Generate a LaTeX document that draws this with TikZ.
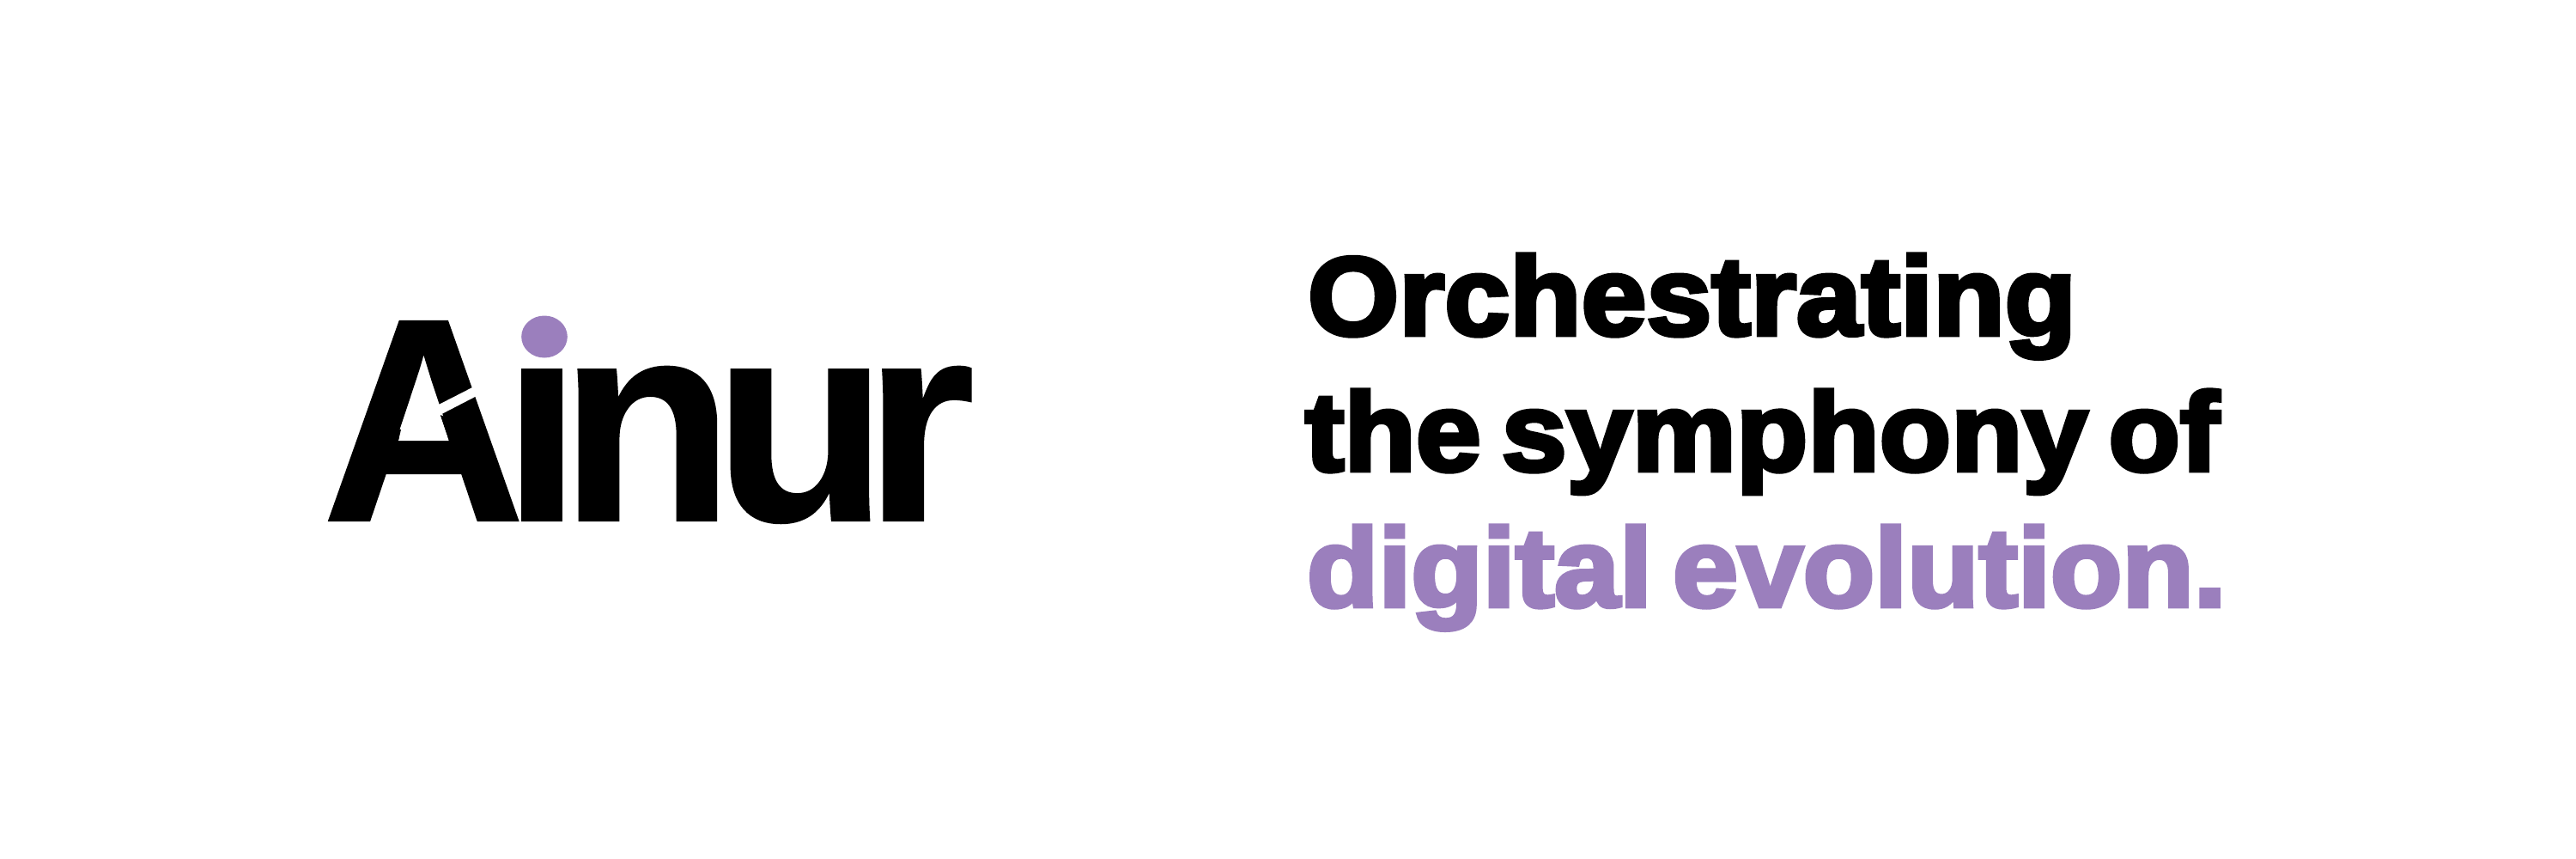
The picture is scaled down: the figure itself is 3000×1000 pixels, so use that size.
\documentclass[tikz,border=0pt]{standalone}
\usepackage{fontspec}
\setmainfont[FakeBold=3.8]{Liberation Sans Bold}
\newfontfamily\logofont[FakeBold=0.6]{Liberation Sans Bold}
\definecolor{ainurpurple}{HTML}{9B7FBD}
\newcommand\tagbox[1]{\scalebox{1.05}[1]{\spaceskip=23pt\relax #1}}
\tikzset{
  tagline/.style={anchor=base west,inner sep=0pt,outer sep=0pt,font=\fontsize{130}{130}\selectfont},
  logotext/.style={anchor=base west,inner sep=0pt,outer sep=0pt,font=\logofont\fontsize{333}{333}\selectfont}
}
\begin{document}
\begin{tikzpicture}[x=1pt,y=-1pt]
\useasboundingbox (0,0) rectangle (3000,1000);
\fill[white] (0,0) rectangle (3000,1000);
\node[logotext] (logo) at (375,606) {\scalebox{.985}[1.013]{A}\kern-27pt i\kern-26pt n\kern-24pt u\kern-28.5pt r};
% crossbar and inner legs of the A
\fill[black] (512.5,483) -- (532,490) -- (537,552) -- (449,552) -- (450,500) -- (467,500) -- (464,513) -- (522.6,513) -- cycle;
% counter and slash of the A
\fill[white] (509,472) -- (492.7,424) -- (464,513) -- (522.6,513) -- (512.5,483) -- (558,459.5) -- (555,448.5) -- cycle;
% dot of the i
\fill[white] (598,350) rectangle (666,427);
\fill[ainurpurple] (634,392) ellipse [x radius=26.8,y radius=24.5];
\node[tagline] (l1) at (1523,390) {\tagbox{Orchestrating}};
\node[tagline] (l2) at (1520,548) {\tagbox{the symphony of}};
\node[tagline,text=ainurpurple] (l3) at (1522,706) {\tagbox{digital evolution.}};
\end{tikzpicture}
\end{document}
